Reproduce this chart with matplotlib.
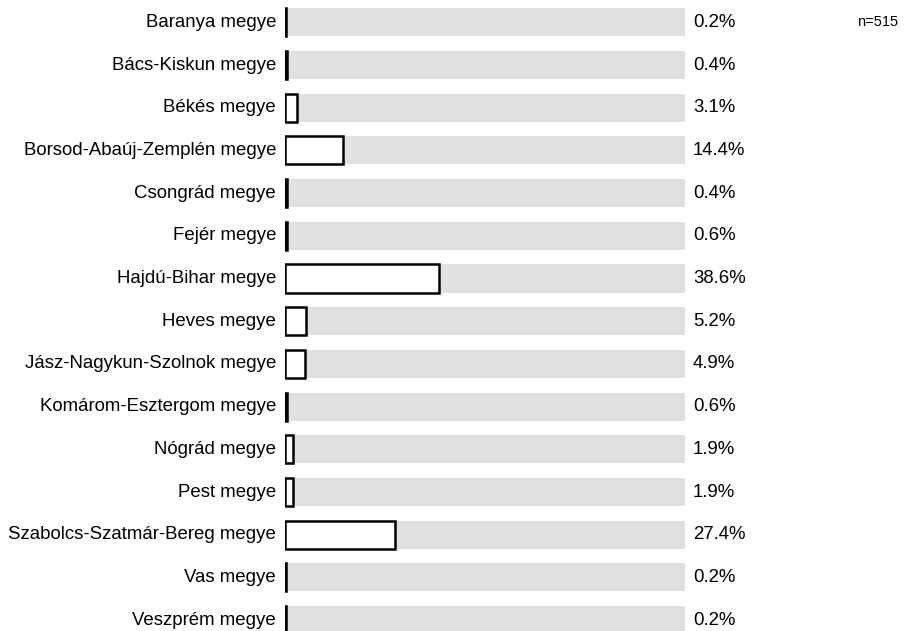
import matplotlib
matplotlib.use('Agg')
import matplotlib.pyplot as plt

# County shares of respondents (percent)
counties = [
    'Baranya megye', 'Bács-Kiskun megye', 'Békés megye',
    'Borsod-Abaúj-Zemplén megye', 'Csongrád megye', 'Fejér megye',
    'Hajdú-Bihar megye', 'Heves megye', 'Jász-Nagykun-Szolnok megye',
    'Komárom-Esztergom megye', 'Nógrád megye', 'Pest megye',
    'Szabolcs-Szatmár-Bereg megye', 'Vas megye', 'Veszprém megye',
]
shares = [0.2, 0.4, 3.1, 14.4, 0.4, 0.6, 38.6, 5.2, 4.9, 0.6, 1.9, 1.9, 27.4, 0.2, 0.2]
n_total = 515

plt.rcParams['font.family'] = ['Liberation Sans', 'DejaVu Sans']

fig = plt.figure(figsize=(9.06, 6.31), dpi=100)
# one row = 42.7 px, 100 % = 400 px; the last row runs off the bottom edge
ax = fig.add_axes([285 / 906, -10.45 / 631, 400 / 906, 640.5 / 631])

ypos = list(range(len(counties)))
ax.barh(ypos, [100] * len(counties), height=0.66, color='#e0e0e0', linewidth=0)
ax.barh(ypos, shares, height=0.66, color='white', edgecolor='black', linewidth=1.8)

for y, name, v in zip(ypos, counties, shares):
    ax.text(-2.2, y, name, ha='right', va='center', fontsize=13.4)
    ax.text(102, y, f'{v:.1f}%', ha='left', va='center', fontsize=13.4)

ax.text(143, 0, f'n={n_total}', ha='left', va='center', fontsize=10.5)

ax.set_xlim(0, 100)
ax.set_ylim(len(counties) - 0.5, -0.5)
ax.axis('off')

fig.savefig('out.png', dpi=100)
